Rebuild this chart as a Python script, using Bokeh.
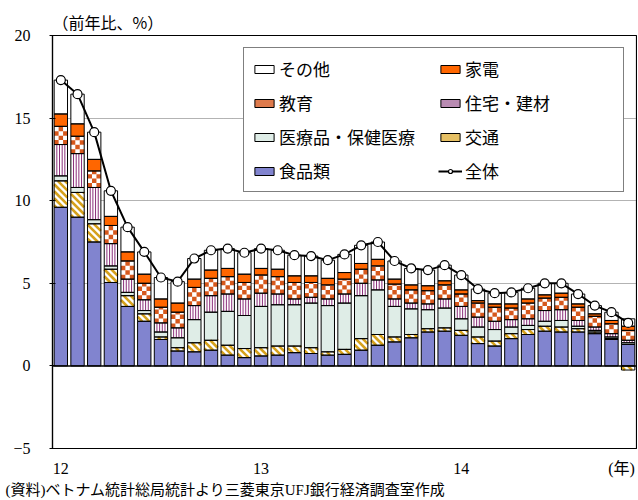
import math
import numpy as np
from bokeh.plotting import figure
from bokeh.models import (Range1d, FixedTicker, Span, Legend, LegendItem, Title, ColumnDataSource)
from bokeh.embed import file_html
from bokeh.resources import INLINE

# ---- data: monthly, Jan 2012 .. Nov 2014 (index 0..34) ----
months = list(range(35))
year_ticks = [0, 12, 24, 33.6]
year_labels = ["12", "13", "14", "(年)"]

food = [9.6, 9.0, 7.5, 5.05, 3.6, 2.7, 1.6, 0.9, 0.85, 0.95, 0.65, 0.5, 0.6, 0.65, 0.8, 0.75, 0.65, 0.7,
        0.95, 1.25, 1.45, 1.7, 2.05, 2.1, 1.85, 1.35, 1.2, 1.65, 1.9, 2.1, 2.05, 2.05, 1.95, 1.6, 1.3]
transport = [1.6, 1.5, 1.1, 0.8, 0.65, 0.45, 0.15, 0.2, 0.55, 0.6, 0.6, 0.55, 0.5, 0.55, 0.4, 0.35, 0.2, 0.3,
             0.7, 0.65, 0.3, 0.2, 0.2, 0.2, 0.3, 0.4, 0.3, 0.3, 0.3, 0.3, 0.3, 0.2, 0.1, 0.05, -0.25]
medical = [0.3, 0.3, 0.25, 0.2, 0.2, 0.2, 0.3, 0.6, 1.4, 1.7, 2.05, 2.0, 2.5, 2.5, 2.5, 2.7, 2.8, 2.8,
           2.6, 2.7, 1.85, 1.55, 1.15, 1.2, 0.7, 0.6, 0.7, 0.4, 0.25, 0.3, 0.4, 0.15, 0.1, 0.1, 0.1]
housing = [1.9, 2.05, 1.95, 1.35, 0.8, 0.65, 0.55, 0.6, 0.85, 1.0, 1.05, 1.0, 0.8, 0.65, 0.35, 0.35, 0.4, 0.55,
           0.75, 0.6, 0.45, 0.35, 0.35, 0.55, 0.75, 0.6, 0.5, 0.45, 0.4, 0.65, 0.65, 0.35, 0.2, 0.2, 0.15]
education = [1.1, 1.05, 1.0, 1.1, 1.1, 1.0, 0.95, 0.95, 1.1, 1.05, 1.05, 1.0, 1.1, 1.05, 1.0, 0.9, 0.85, 0.9,
             0.85, 0.85, 0.9, 0.8, 0.8, 0.85, 0.75, 0.85, 0.85, 0.7, 0.95, 0.75, 0.75, 0.8, 0.65, 0.6, 0.6]
appliances = [0.75, 0.75, 0.7, 0.55, 0.55, 0.55, 0.5, 0.55, 0.5, 0.5, 0.5, 0.5, 0.4, 0.45, 0.4, 0.4, 0.4, 0.4,
              0.35, 0.4, 0.3, 0.3, 0.3, 0.25, 0.25, 0.15, 0.2, 0.25, 0.25, 0.2, 0.25, 0.2, 0.15, 0.2, 0.25]
other = [2.05, 1.8, 1.65, 1.55, 1.5, 1.35, 1.3, 1.3, 1.25, 1.2, 1.2, 1.3, 1.2, 1.15, 1.25, 1.2, 1.1, 1.1,
         1.1, 1.05, 1.1, 1.0, 0.95, 0.95, 0.9, 0.7, 0.65, 0.7, 0.65, 0.7, 0.6, 0.6, 0.5, 0.5, 0.45]
total = [17.3, 16.45, 14.15, 10.6, 8.4, 6.9, 5.35, 5.1, 6.5, 7.0, 7.1, 6.85, 7.1, 7.0, 6.7, 6.65, 6.4, 6.75,
         7.3, 7.5, 6.35, 5.9, 5.8, 6.1, 5.5, 4.65, 4.4, 4.45, 4.7, 5.0, 5.0, 4.35, 3.65, 3.25, 2.6]

# ---- layout / style constants ----
W, H = 637, 499
FL, FR, FT, FB = 52, 636, 35, 448          # frame edges (px)
XR = (-0.5, 34.5)
YR = (-5, 20)
PX = (FR - FL) / (XR[1] - XR[0])          # px per category
PY = (FB - FT) / (YR[1] - YR[0])          # px per percentage point
BAR_W = 0.8

# name, values, background fill, legend swatch colour
layers = [
    ("食品類", food, "#8184cf", "#8184cf"),
    ("交通", transport, "#ffffff", "#e6c064"),
    ("医療品・保健医療", medical, "#dfede7", "#dfede7"),
    ("住宅・建材", housing, "#ffffff", "#b98bb2"),
    ("教育", education, "#ffffff", "#de7a4c"),
    ("家電", appliances, "#ff6600", "#ff6600"),
    ("その他", other, "#ffffff", "#ffffff"),
]

p = figure(width=W, height=H, x_range=Range1d(*XR), y_range=Range1d(*YR),
           output_backend="svg", toolbar_location=None,
           min_border_left=FL, min_border_right=W - FR, min_border_top=FT,
           min_border_bottom=H - FB)
p.background_fill_color = "white"
p.border_fill_color = "white"
p.outline_line_color = "black"
p.outline_line_width = 1.2

p.xgrid.visible = False
p.ygrid.ticker = FixedTicker(ticks=[5, 10, 15])
p.ygrid.grid_line_color = "#666666"
p.ygrid.grid_line_dash = "1 1"
p.ygrid.grid_line_width = 1

n = len(months)
pos = np.zeros(n)
neg = np.zeros(n)
seg = {}
for name, vals, bg, _ in layers:
    v = np.array(vals, dtype=float)
    bottom = np.where(v >= 0, pos, neg)
    top = bottom + v
    pos = np.where(v >= 0, top, pos)
    neg = np.where(v < 0, top, neg)
    seg[name] = (np.minimum(bottom, top), np.maximum(bottom, top))
    src = ColumnDataSource(dict(x=months, bottom=seg[name][0], top=seg[name][1]))
    p.vbar(x="x", bottom="bottom", top="top", width=BAR_W, source=src,
           fill_color=bg, line_color=None)

# --- pattern: education (checker) ---
cw = BAR_W / 3
ch = cw * PX / PY
q = dict(left=[], right=[], bottom=[], top=[])
lo_a, hi_a = seg["教育"]
for i, m in enumerate(months):
    lo, hi = lo_a[i], hi_a[i]
    k = 0
    y0 = lo
    while y0 < hi - 1e-9:
        y1 = min(y0 + ch, hi)
        for c in range(3):
            if (k + c) % 2 == 0:
                x0 = m - BAR_W / 2 + c * cw
                q["left"].append(x0)
                q["right"].append(x0 + cw)
                q["bottom"].append(y0)
                q["top"].append(y1)
        y0 += ch
        k += 1
p.quad(left="left", right="right", bottom="bottom", top="top",
       source=ColumnDataSource(q), fill_color="#d6581c", line_color=None)

# --- pattern: housing (vertical lines) ---
offs = [-0.24, -0.08, 0.08, 0.24]
vs = dict(x0=[], y0=[], x1=[], y1=[])
lo_a, hi_a = seg["住宅・建材"]
for i, m in enumerate(months):
    if hi_a[i] - lo_a[i] <= 0:
        continue
    for o in offs:
        vs["x0"].append(m + o)
        vs["x1"].append(m + o)
        vs["y0"].append(lo_a[i])
        vs["y1"].append(hi_a[i])
p.segment(x0="x0", y0="y0", x1="x1", y1="y1", source=ColumnDataSource(vs),
          line_color="#8b2f7a", line_width=1)

# --- pattern: transport (diagonal stripes) ---
period = 7.0
ds = dict(x0=[], y0=[], x1=[], y1=[])
lo_a, hi_a = seg["交通"]
for i, m in enumerate(months):
    Xl, Xr = (m - BAR_W / 2) * PX, (m + BAR_W / 2) * PX
    Yb, Yt = lo_a[i] * PY, hi_a[i] * PY
    if Yt - Yb <= 0:
        continue
    C = math.ceil((Xl + Yb) / period) * period
    while C <= Xr + Yt:
        a = max(Xl, C - Yt)
        b = min(Xr, C - Yb)
        if b > a + 0.3:
            ds["x0"].append(a / PX)
            ds["y0"].append((C - a) / PY)
            ds["x1"].append(b / PX)
            ds["y1"].append((C - b) / PY)
        C += period
p.segment(x0="x0", y0="y0", x1="x1", y1="y1", source=ColumnDataSource(ds),
          line_color="#d6a11c", line_width=2.6, line_cap="butt")

# outlines over patterns
for name, vals, bg, _ in layers:
    src = ColumnDataSource(dict(x=months, bottom=seg[name][0], top=seg[name][1]))
    p.vbar(x="x", bottom="bottom", top="top", width=BAR_W, source=src,
           fill_color=None, line_color="black", line_width=1)

zero = Span(location=0, dimension="width", line_color="black", line_width=1.5)
p.add_layout(zero)

lsrc = ColumnDataSource(dict(x=months, y=total))
lr = p.line(x="x", y="y", source=lsrc, line_color="black", line_width=2)
sr = p.scatter(x="x", y="y", source=lsrc, marker="circle", size=9,
               fill_color="white", line_color="black", line_width=1.2)

# legend swatch proxies (hidden renderers)
proxy = {}
for name, vals, bg, sw in layers:
    psrc = ColumnDataSource(dict(x=months[:1], bottom=seg[name][0][:1], top=seg[name][1][:1]))
    proxy[name] = p.vbar(x="x", bottom="bottom", top="top", width=BAR_W, source=psrc,
                         fill_color=sw, line_color="black", line_width=1, visible=False)

# axes
p.yaxis.ticker = FixedTicker(ticks=[-5, 0, 5, 10, 15, 20])
p.yaxis.axis_line_color = "black"
p.yaxis.axis_line_width = 1.2
p.yaxis.major_tick_in = 3
p.yaxis.major_tick_out = 3
p.yaxis.minor_tick_line_color = None
p.yaxis.major_label_standoff = 19
p.yaxis.major_label_text_font = "Liberation Serif"
p.yaxis.major_label_text_font_size = "16px"
p.yaxis.major_label_text_color = "black"

p.xaxis.ticker = FixedTicker(ticks=year_ticks)
p.xaxis.major_label_overrides = {t: l for t, l in zip(year_ticks, year_labels)}
p.xaxis.axis_line_color = "black"
p.xaxis.major_tick_line_color = None
p.xaxis.minor_tick_line_color = None
p.xaxis.major_label_standoff = 5
p.xaxis.major_label_text_font = "Liberation Serif, Noto Sans CJK JP"
p.xaxis.major_label_text_font_size = "16px"
p.xaxis.major_label_text_color = "black"

p.title.text = "（前年比、%）"
p.title.align = "left"
p.title.offset = 0
p.title.standoff = 3
p.title.text_font = "Noto Sans CJK JP"
p.title.text_font_size = "16px"
p.title.text_font_style = "normal"
p.title.text_color = "black"

foot = Title(text="(資料)ベトナム統計総局統計より三菱東京UFJ銀行経済調査室作成", align="left",
             offset=-47, standoff=0, text_font="Liberation Serif, Noto Sans CJK JP",
             text_font_size="15px", text_font_style="normal", text_color="black")
p.add_layout(foot, "below")

# column-major order -> rows: その他/家電, 教育/住宅, 医療/交通, 食品/全体
items = [
    LegendItem(label="その他", renderers=[proxy["その他"]]),
    LegendItem(label="教育", renderers=[proxy["教育"]]),
    LegendItem(label="医療品・保健医療", renderers=[proxy["医療品・保健医療"]]),
    LegendItem(label="食品類", renderers=[proxy["食品類"]]),
    LegendItem(label="家電", renderers=[proxy["家電"]]),
    LegendItem(label="住宅・建材", renderers=[proxy["住宅・建材"]]),
    LegendItem(label="交通", renderers=[proxy["交通"]]),
    LegendItem(label="全体", renderers=[lr, sr]),
]
legend = Legend(items=items, location=(191, 256), ncols=2, click_policy="none",
                border_line_color="black", border_line_width=1,
                background_fill_color="white", background_fill_alpha=1,
                padding=8, spacing=9, margin=0,
                glyph_width=24, glyph_height=10, label_height=24, label_width=150,
                label_standoff=3,
                label_text_font="Noto Sans CJK JP", label_text_font_size="17px",
                label_text_color="black")
p.add_layout(legend)

open("out.html", "w").write(file_html(p, INLINE))
